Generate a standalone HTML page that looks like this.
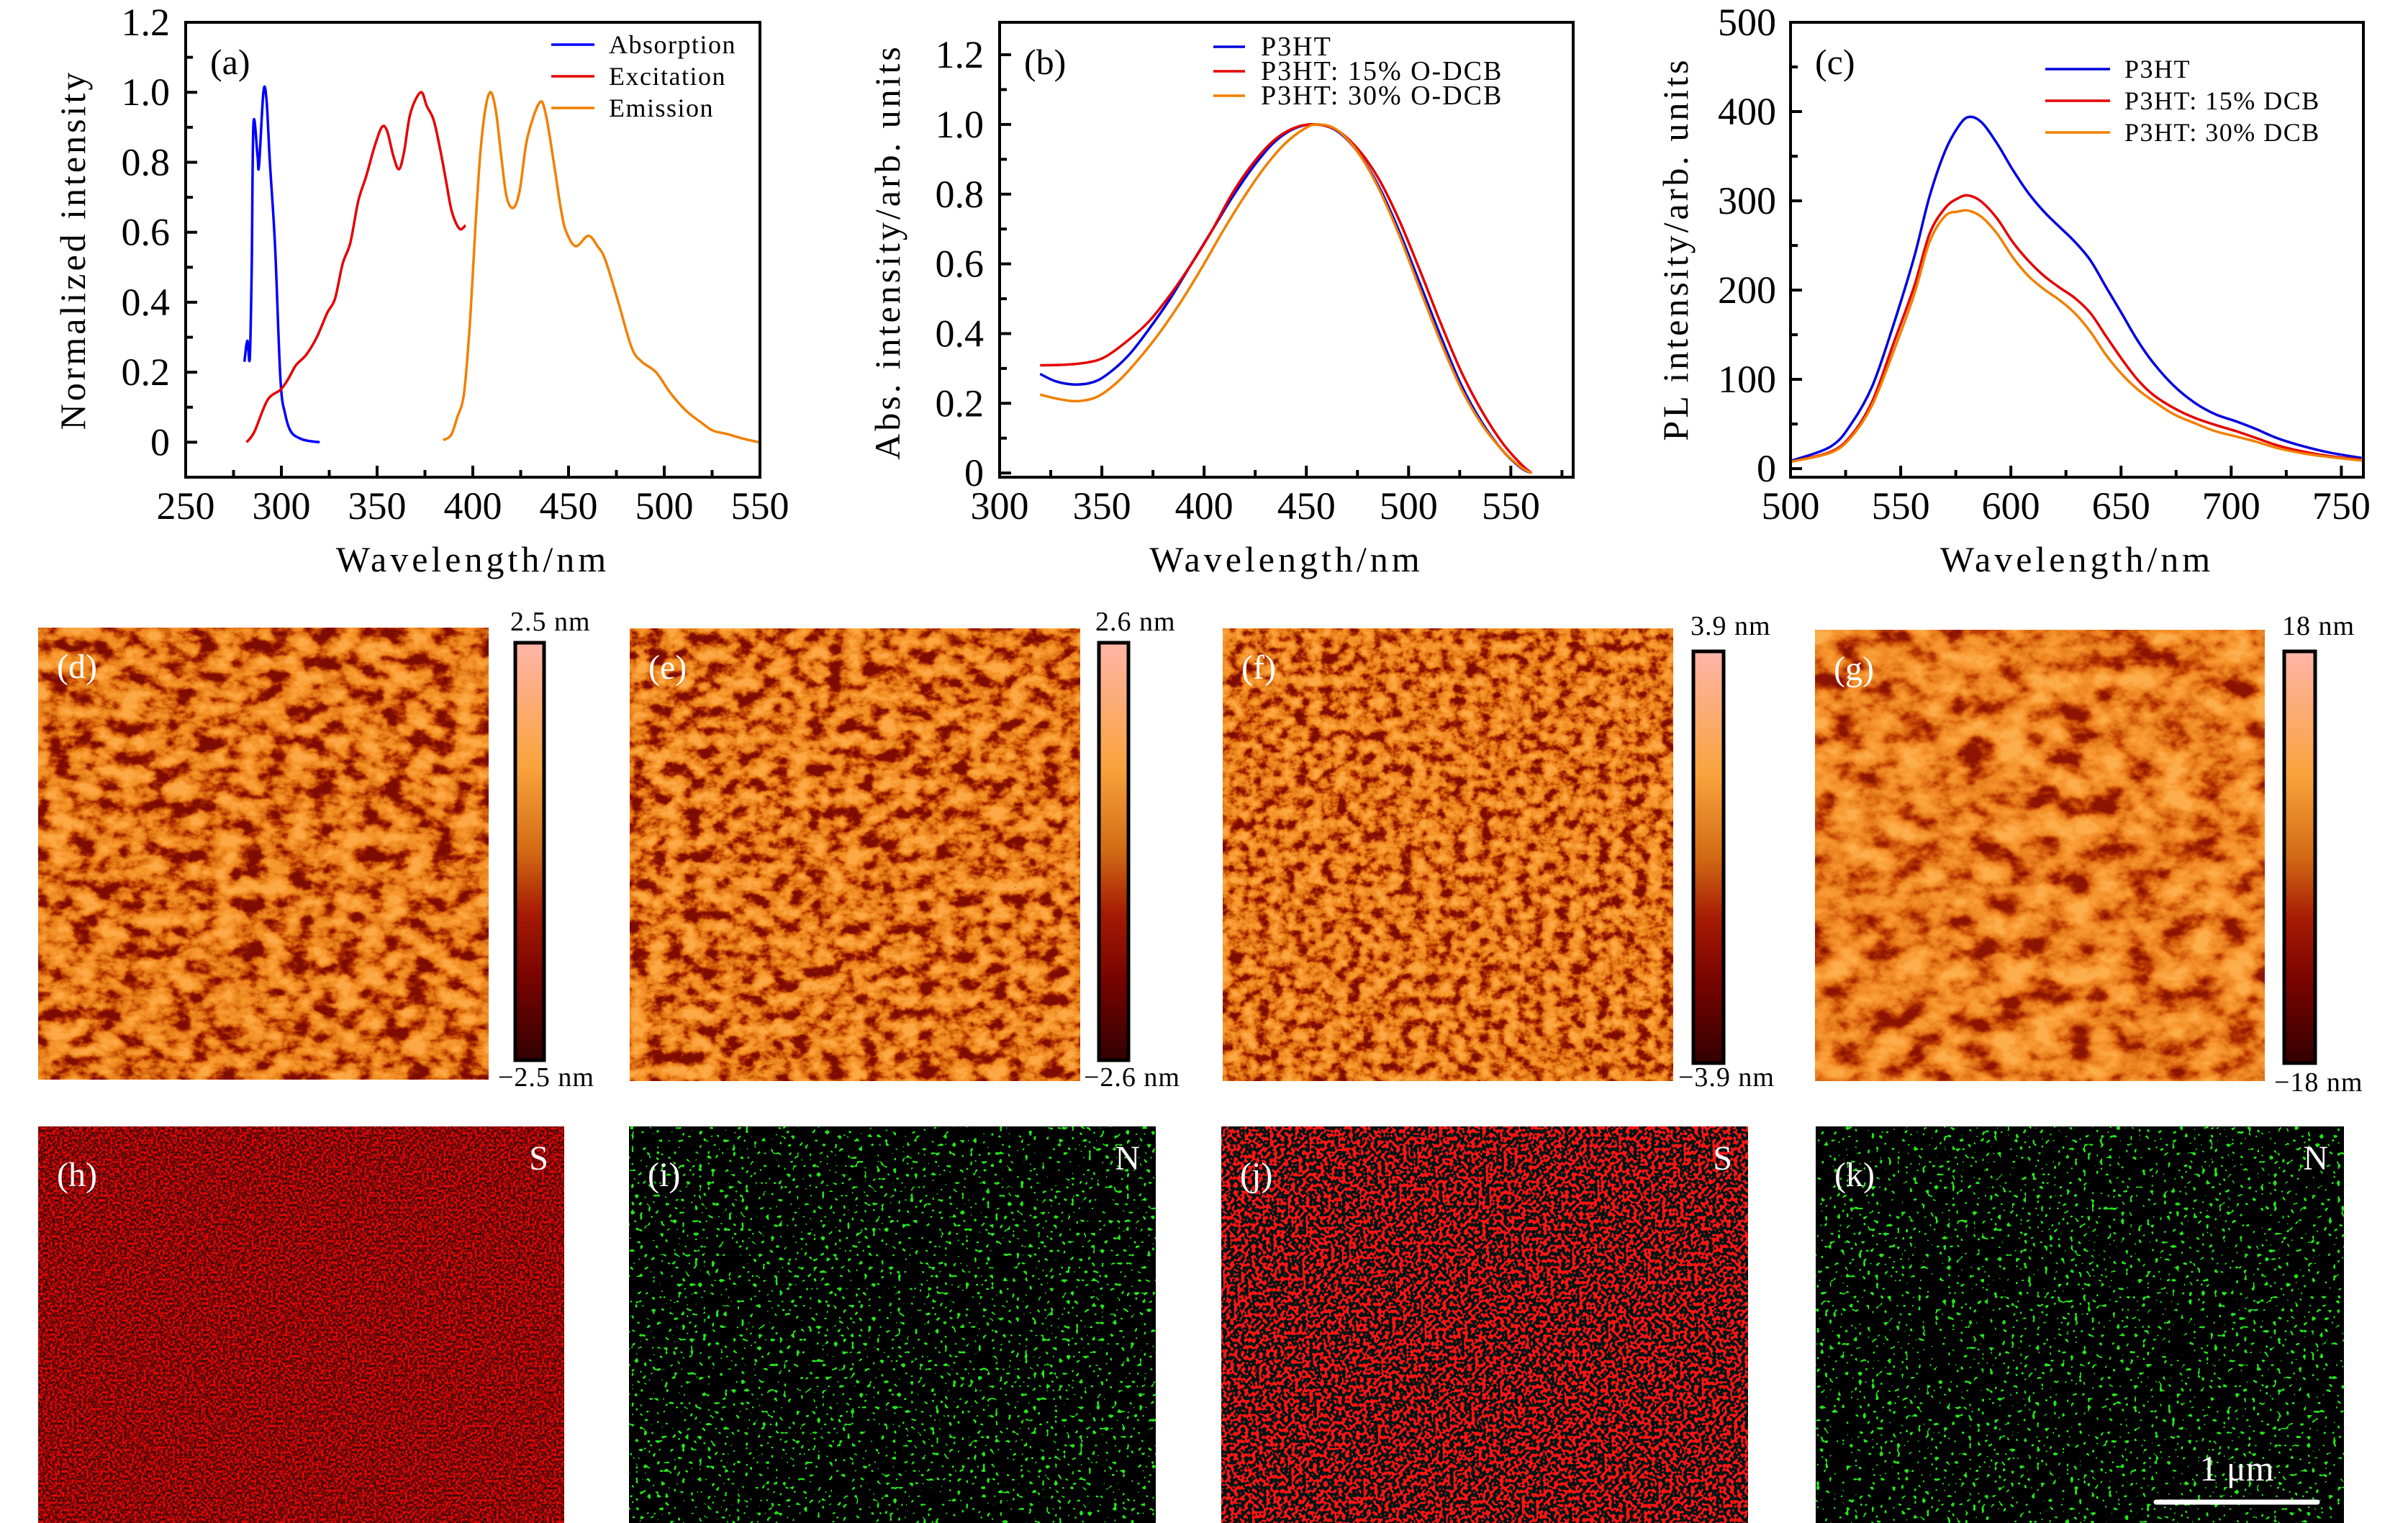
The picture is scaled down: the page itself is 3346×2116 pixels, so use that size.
<!DOCTYPE html>
<html><head><meta charset="utf-8">
<style>
html,body{margin:0;padding:0;background:#fff;}
svg{display:block;font-family:"Liberation Serif",serif;}
</style></head>
<body>
<svg id="fig" width="3346" height="2116" viewBox="0 0 3346 2116" xmlns="http://www.w3.org/2000/svg">
<defs>
  <linearGradient id="cbar" x1="0" y1="0" x2="0" y2="1">
    <stop offset="0" stop-color="#ffb4a8"/>
    <stop offset="0.3" stop-color="#f9a33c"/>
    <stop offset="0.5" stop-color="#d26a14"/>
    <stop offset="0.65" stop-color="#a51a04"/>
    <stop offset="0.8" stop-color="#7a0400"/>
    <stop offset="1" stop-color="#330000"/>
  </linearGradient>
  <filter id="afm1" x="0" y="0" width="1" height="1" color-interpolation-filters="sRGB">
    <feTurbulence type="fractalNoise" baseFrequency="0.03 0.045" numOctaves="4" seed="3"/>
    <feColorMatrix type="matrix" values="1 0 0 0 0  1 0 0 0 0  1 0 0 0 0  0 0 0 0 1"/>
    <feComponentTransfer><feFuncR type="linear" slope="2.4" intercept="-0.72"/><feFuncG type="linear" slope="2.4" intercept="-0.72"/><feFuncB type="linear" slope="2.4" intercept="-0.72"/></feComponentTransfer>
    <feComponentTransfer>
      <feFuncR type="table" tableValues="0.5 0.66 0.8 0.9 0.95 0.97 0.99"/>
      <feFuncG type="table" tableValues="0.05 0.16 0.34 0.49 0.56 0.6 0.66"/>
      <feFuncB type="table" tableValues="0 0.0 0.03 0.1 0.15 0.18 0.28"/>
    </feComponentTransfer>
  </filter>
  <filter id="afm2" x="0" y="0" width="1" height="1" color-interpolation-filters="sRGB">
    <feTurbulence type="fractalNoise" baseFrequency="0.04 0.05" numOctaves="5" seed="11"/>
    <feColorMatrix type="matrix" values="1 0 0 0 0  1 0 0 0 0  1 0 0 0 0  0 0 0 0 1"/>
    <feComponentTransfer><feFuncR type="linear" slope="2.4" intercept="-0.72"/><feFuncG type="linear" slope="2.4" intercept="-0.72"/><feFuncB type="linear" slope="2.4" intercept="-0.72"/></feComponentTransfer>
    <feComponentTransfer>
      <feFuncR type="table" tableValues="0.5 0.66 0.8 0.9 0.95 0.97 0.99"/>
      <feFuncG type="table" tableValues="0.05 0.16 0.34 0.49 0.56 0.6 0.66"/>
      <feFuncB type="table" tableValues="0 0.0 0.03 0.1 0.15 0.18 0.28"/>
    </feComponentTransfer>
  </filter>
  <filter id="afm4" x="0" y="0" width="1" height="1" color-interpolation-filters="sRGB">
    <feTurbulence type="fractalNoise" baseFrequency="0.055 0.065" numOctaves="5" seed="17"/>
    <feColorMatrix type="matrix" values="1 0 0 0 0  1 0 0 0 0  1 0 0 0 0  0 0 0 0 1"/>
    <feComponentTransfer><feFuncR type="linear" slope="2.2" intercept="-0.62"/><feFuncG type="linear" slope="2.2" intercept="-0.62"/><feFuncB type="linear" slope="2.2" intercept="-0.62"/></feComponentTransfer>
    <feComponentTransfer>
      <feFuncR type="table" tableValues="0.5 0.66 0.8 0.9 0.95 0.97 0.99"/>
      <feFuncG type="table" tableValues="0.05 0.16 0.34 0.49 0.56 0.6 0.66"/>
      <feFuncB type="table" tableValues="0 0.0 0.03 0.1 0.15 0.18 0.28"/>
    </feComponentTransfer>
  </filter>
  <filter id="afm3" x="0" y="0" width="1" height="1" color-interpolation-filters="sRGB">
    <feTurbulence type="fractalNoise" baseFrequency="0.022 0.03" numOctaves="4" seed="7"/>
    <feColorMatrix type="matrix" values="1 0 0 0 0  1 0 0 0 0  1 0 0 0 0  0 0 0 0 1"/>
    <feComponentTransfer><feFuncR type="linear" slope="2.2" intercept="-0.58"/><feFuncG type="linear" slope="2.2" intercept="-0.58"/><feFuncB type="linear" slope="2.2" intercept="-0.58"/></feComponentTransfer>
    <feComponentTransfer>
      <feFuncR type="table" tableValues="0.55 0.7 0.83 0.91 0.96 0.98 0.99"/>
      <feFuncG type="table" tableValues="0.08 0.2 0.36 0.5 0.57 0.62 0.68"/>
      <feFuncB type="table" tableValues="0 0.0 0.05 0.12 0.17 0.22 0.3"/>
    </feComponentTransfer>
  </filter>
  <filter id="edsH" x="0" y="0" width="1" height="1" color-interpolation-filters="sRGB">
    <feTurbulence type="fractalNoise" baseFrequency="0.3" numOctaves="1" seed="5"/>
    <feComponentTransfer>
      <feFuncR type="linear" slope="3" intercept="-0.9"/>
      <feFuncG type="linear" slope="0" intercept="0.03"/>
      <feFuncB type="linear" slope="0" intercept="0.03"/>
      <feFuncA type="linear" slope="0" intercept="1"/>
    </feComponentTransfer>
    <feComponentTransfer><feFuncR type="table" tableValues="0.25 0.45 0.9"/></feComponentTransfer>
  </filter>
  <filter id="edsJ" x="0" y="0" width="1" height="1" color-interpolation-filters="sRGB">
    <feTurbulence type="fractalNoise" baseFrequency="0.2" numOctaves="1" seed="9"/>
    <feComponentTransfer>
      <feFuncR type="linear" slope="6" intercept="-2.6"/>
      <feFuncG type="linear" slope="0" intercept="0"/>
      <feFuncB type="linear" slope="0" intercept="0"/>
      <feFuncA type="linear" slope="0" intercept="1"/>
    </feComponentTransfer>
    <feComponentTransfer><feFuncR type="discrete" tableValues="0 1"/><feFuncG type="linear" slope="0" intercept="0.08"/><feFuncB type="linear" slope="0" intercept="0.08"/></feComponentTransfer>
  </filter>
  <filter id="edsN1" x="0" y="0" width="1" height="1" color-interpolation-filters="sRGB">
    <feTurbulence type="fractalNoise" baseFrequency="0.17" numOctaves="1" seed="21"/>
    <feComponentTransfer>
      <feFuncR type="linear" slope="0" intercept="0"/>
      <feFuncG type="linear" slope="7" intercept="-4.15"/>
      <feFuncB type="linear" slope="0" intercept="0"/>
      <feFuncA type="linear" slope="0" intercept="1"/>
    </feComponentTransfer>
    <feComponentTransfer><feFuncG type="discrete" tableValues="0 0.9"/><feFuncR type="linear" slope="0" intercept="0"/></feComponentTransfer>
    <feColorMatrix type="matrix" values="0 0.15 0 0 0  0 1 0 0 0  0 0.1 0 0 0  0 0 0 1 0"/>
  </filter>
  <filter id="edsN2" x="0" y="0" width="1" height="1" color-interpolation-filters="sRGB">
    <feTurbulence type="fractalNoise" baseFrequency="0.17" numOctaves="1" seed="33"/>
    <feComponentTransfer>
      <feFuncR type="linear" slope="0" intercept="0"/>
      <feFuncG type="linear" slope="7" intercept="-4.15"/>
      <feFuncB type="linear" slope="0" intercept="0"/>
      <feFuncA type="linear" slope="0" intercept="1"/>
    </feComponentTransfer>
    <feComponentTransfer><feFuncG type="discrete" tableValues="0 0.9"/><feFuncR type="linear" slope="0" intercept="0"/></feComponentTransfer>
    <feColorMatrix type="matrix" values="0 0.15 0 0 0  0 1 0 0 0  0 0.1 0 0 0  0 0 0 1 0"/>
  </filter>
</defs>
<g id="charts"></g>
<g id="images"></g>
</svg>
<script>
// ---- Panel (a) data ----
const absX = [280.7,282.2,283.5,284.5,285.4,287.5,288.3,290.6,292.2,294,296.7,299.5,302,305,310,315,320];
const absY = [0.23,0.29,0.24,0.5,0.91,0.82,0.79,1.0,0.98,0.8,0.56,0.18,0.08,0.03,0.01,0.003,0.0];
const excX = [281.8,285.9,292.7,299.5,303.5,307.6,313,318.5,324,328,332,336,340.2,344.3,348.4,352.4,355.2,358.4,361.4,364.1,367.4,372.8,376,379.6,383.2,385.9,389,393,396.2];
const excY = [0,0.03,0.12,0.15,0.18,0.22,0.25,0.30,0.37,0.41,0.51,0.57,0.69,0.76,0.84,0.90,0.89,0.82,0.78,0.83,0.94,1.0,0.96,0.92,0.83,0.75,0.66,0.61,0.62];
const emiX = [384.5,388.6,391.8,395.4,398.6,401.4,404,406.8,409.5,412.2,415,417.7,421.2,424.5,428.5,434.8,438,442,446.2,448.9,453.8,460.3,465.2,469.3,476,483,488.3,495.7,503.3,511.4,519.6,525.5,533.2,541.3,549.5];
const emiY = [0.006,0.02,0.07,0.14,0.35,0.62,0.83,0.96,1.0,0.94,0.81,0.70,0.67,0.72,0.87,0.97,0.94,0.81,0.66,0.60,0.56,0.59,0.56,0.52,0.40,0.27,0.23,0.20,0.14,0.09,0.055,0.033,0.023,0.01,0.0];
const aXTicks = [250,300,350,400,450,500,550];
const aYTicks = [0,0.2,0.4,0.6,0.8,1.0,1.2];
const aYLabels = ["0","0.2","0.4","0.6","0.8","1.0","1.2"];
// ---- Panel (b) data ----
const bBlueX = [319.8,327.5,336.4,345.3,352.9,363.1,373.2,383.4,393.6,403.8,413.9,424.1,434.3,444.5,454.6,464.8,475,485.2,495.3,505.5,515.7,525.8,536,546.2,555.1,560.2];
const bBlueY = [0.284,0.263,0.254,0.26,0.284,0.338,0.414,0.50,0.598,0.695,0.792,0.879,0.949,0.989,1.0,0.982,0.922,0.825,0.695,0.544,0.392,0.252,0.144,0.063,0.014,0];
const bRedX = [319.8,332.6,342.7,351.6,363.1,373.2,383.4,393.6,403.8,413.9,424.1,434.3,444.5,454.6,464.8,475,485.2,495.3,505.5,515.7,525.8,536,546.2,555.1,560.2];
const bRedY = [0.309,0.311,0.317,0.333,0.382,0.436,0.511,0.598,0.695,0.803,0.89,0.955,0.991,1.0,0.984,0.931,0.846,0.727,0.582,0.43,0.29,0.176,0.084,0.025,0];
const bOrX = [319.8,327.5,337.6,347.8,358,368.2,378.3,388.5,398.7,408.8,419,429.2,439.4,449.5,455.9,464.8,475,485.2,495.3,505.5,515.7,525.8,536,546.2,555.1,560.2];
const bOrY = [0.225,0.214,0.206,0.219,0.263,0.328,0.403,0.49,0.587,0.69,0.787,0.874,0.944,0.989,1.0,0.985,0.922,0.819,0.684,0.528,0.376,0.241,0.138,0.063,0.016,0];
const bXTicks = [300,350,400,450,500,550];
const bYTicks = [0,0.2,0.4,0.6,0.8,1.0,1.2];
const bYLabels = ["0","0.2","0.4","0.6","0.8","1.0","1.2"];
// ---- Panel (c) data ----
const cX = [500.7,518.4,527.8,537.2,546.7,556.1,563.1,570.2,576.1,580.8,586.7,593.8,600.8,607.9,615,622,629.1,636.2,643.3,650.3,657.4,664.5,673.9,683.3,692.7,702.2,711.6,721,732.8,744.6,759.2];
const cBlue = [9,25,51,93,161,237,305,356,383,394,388,364,335,309,288,271,254,233,203,174,144,119,93,74,61,53,44,34,25,18,12];
const cRed = [8,19,38,76,140,204,263,292,303,306,299,280,254,233,216,203,191,174,148,123,100,83,68,57,49,42,34,26,19,14,10];
const cOrange = [8,18,36,72,131,195,254,283,288,289,282,263,237,216,201,189,174,153,127,106,89,76,61,51,42,36,30,23,17,13,9];
const cXTicks = [500,550,600,650,700,750];
const cYTicks = [0,100,200,300,400,500];
const cYLabels = ["0","100","200","300","400","500"];

const NS = "http://www.w3.org/2000/svg";
const charts = document.getElementById('charts');
const images = document.getElementById('images');
function mk(tag, attrs, parent, text){
  const e = document.createElementNS(NS, tag);
  for (const k in attrs) e.setAttribute(k, attrs[k]);
  if (text !== undefined) e.textContent = text;
  parent.appendChild(e);
  return e;
}
function scale(d0,d1,r0,r1){ return v => r0 + (v-d0)/(d1-d0)*(r1-r0); }
function smoothPath(xs, ys, sx, sy){
  const p = xs.map((x,i)=>[sx(x), sy(ys[i])]);
  let d = "M" + p[0][0].toFixed(1) + "," + p[0][1].toFixed(1);
  for (let i=0;i<p.length-1;i++){
    const p0 = p[i-1]||p[i], p1=p[i], p2=p[i+1], p3=p[i+2]||p2;
    const c1 = [p1[0]+(p2[0]-p0[0])/6, p1[1]+(p2[1]-p0[1])/6];
    const c2 = [p2[0]-(p3[0]-p1[0])/6, p2[1]-(p3[1]-p1[1])/6];
    d += "C"+c1[0].toFixed(1)+","+c1[1].toFixed(1)+" "+c2[0].toFixed(1)+","+c2[1].toFixed(1)+" "+p2[0].toFixed(1)+","+p2[1].toFixed(1);
  }
  return d;
}

function panel(cfg){
  const g = mk('g', {}, charts);
  
  
  const sx = scale(cfg.xd[0], cfg.xd[1], cfg.L, cfg.R);
  const sy = scale(cfg.yd[0], cfg.yd[1], cfg.B, cfg.T);
  const sg = mk('g', {}, g);
  
  
  cfg.series.forEach(s=>{
    const p = mk('path', {d: smoothPath(s.x, s.y, sx, sy), fill:'none', stroke:s.color, 'stroke-width':3.5, 'stroke-linejoin':'round'}, sg);
    
    
  });
  const fr = mk('rect', {x:cfg.L, y:cfg.T, width:cfg.R-cfg.L, height:cfg.B-cfg.T, fill:'none', stroke:'#000', 'stroke-width':4}, g);
  
  
  const xg = mk('g', {}, g);
  
  
  cfg.xTicks.forEach(v=>{
    const x = sx(v);
    mk('line', {x1:x, x2:x, y1:cfg.B, y2:cfg.B-16, stroke:'#000','stroke-width':4}, xg);
    const t = mk('text', {x:x, y:cfg.B+58, 'font-size':54, 'text-anchor':'middle'}, xg, String(v));
    
    
  });
  for (let i=0;i<cfg.xTicks.length;i++){
    const m = cfg.xTicks[i] + (cfg.xTicks[1]-cfg.xTicks[0])/2;
    if (m < cfg.xd[1]) { const x=sx(m); mk('line', {x1:x, x2:x, y1:cfg.B, y2:cfg.B-10, stroke:'#000','stroke-width':4}, xg); }
  }
  const yg = mk('g', {}, g);
  
  
  cfg.yTicks.forEach((v,i)=>{
    const y = sy(v);
    mk('line', {x1:cfg.L, x2:cfg.L+16, y1:y, y2:y, stroke:'#000','stroke-width':4}, yg);
    const t = mk('text', {x:cfg.ylx, y:y+18, 'font-size':54, 'text-anchor':'end'}, yg, cfg.yLabels[i]);
    
    
  });
  const step = cfg.yTicks[1]-cfg.yTicks[0];
  for (let v=cfg.yTicks[0]-step/2; v<cfg.yd[1]; v+=step){
    if (v > cfg.yd[0]) { const y=sy(v); mk('line', {x1:cfg.L, x2:cfg.L+10, y1:y, y2:y, stroke:'#000','stroke-width':4}, yg); }
  }
  const xt = mk('text', {x:(cfg.L+cfg.R)/2, y:794, 'font-size':50, 'text-anchor':'middle', 'letter-spacing':'5'}, g, 'Wavelength/nm');
  
  
  const yt = mk('text', {x:0, y:0, 'font-size':50, 'text-anchor':'middle', 'letter-spacing':'4', transform:'translate('+cfg.ytx+','+cfg.tyc+') rotate(-90)'}, g, cfg.yTitle);
  
  
  const pl = mk('text', {x:cfg.L+34, y:cfg.T+72, 'font-size':50}, g, cfg.label);
  
  
  const lg = mk('g', {}, g);
  
  
  cfg.series.forEach((s,i)=>{
    const y = cfg.leg.y0 + i*cfg.leg.dy;
    const e = mk('g', {}, lg);
    
    
    mk('line', {x1:cfg.leg.x0, x2:cfg.leg.x1, y1:y, y2:y, stroke:s.color, 'stroke-width':3.5}, e);
    mk('text', {x:cfg.leg.tx, y:y+12, 'font-size':cfg.leg.fs, 'letter-spacing':cfg.leg.ls}, e, s.name);
  });
}

panel({name:'panel-a-spectra', L:258, R:1056, T:31, B:663, xd:[250,550], yd:[-0.1,1.2],
  xTicks:aXTicks, yTicks:aYTicks, yLabels:aYLabels, ylx:236, ytx:118, tyc:347,
  yTitle:'Normalized intensity', label:'(a)',
  leg:{x0:766, x1:826, tx:846, y0:62, dy:44, fs:36, ls:'1.5'},
  series:[{id:'absorption',name:'Absorption',color:'#0000ff',x:absX,y:absY},
          {id:'excitation',name:'Excitation',color:'#e50000',x:excX,y:excY},
          {id:'emission',name:'Emission',color:'#f08000',x:emiX,y:emiY}]});
panel({name:'panel-b-absorption', L:1389, R:2186, T:31, B:663, xd:[300,580.5], yd:[-0.012,1.293],
  xTicks:bXTicks, yTicks:bYTicks, yLabels:bYLabels, ylx:1367, ytx:1250, tyc:350,
  yTitle:'Abs. intensity/arb. units', label:'(b)',
  leg:{x0:1686, x1:1730, tx:1752, y0:65, dy:34, fs:38, ls:'2'},
  series:[{id:'p3ht',name:'P3HT',color:'#0000dd',x:bBlueX,y:bBlueY},
          {id:'p3ht-15-odcb',name:'P3HT: 15% O-DCB',color:'#e50000',x:bRedX,y:bRedY},
          {id:'p3ht-30-odcb',name:'P3HT: 30% O-DCB',color:'#f08000',x:bOrX,y:bOrY}]});
panel({name:'panel-c-pl', L:2488, R:3284, T:31, B:663, xd:[500,760], yd:[-9.6,500],
  xTicks:cXTicks, yTicks:cYTicks, yLabels:cYLabels, ylx:2468, ytx:2345, tyc:346,
  yTitle:'PL intensity/arb. units', label:'(c)',
  leg:{x0:2842, x1:2932, tx:2952, y0:96, dy:44, fs:36, ls:'1.5'},
  series:[{id:'p3ht',name:'P3HT',color:'#0000dd',x:cX,y:cBlue},
          {id:'p3ht-15-dcb',name:'P3HT: 15% DCB',color:'#e50000',x:cX,y:cRed},
          {id:'p3ht-30-dcb',name:'P3HT: 30% DCB',color:'#f08000',x:cX,y:cOrange}]});

// ---- AFM images ----
const afm = [
  {n:'d', x:53, y:872, w:626, h:628, f:'afm1', cb:[716,893,40,580], top:'2.5 nm', bot:'\u22122.5 nm', tl:[709,876], bl:[692,1509]},
  {n:'e', x:875, y:873, w:626, h:629, f:'afm2', cb:[1527,893,41,580], top:'2.6 nm', bot:'\u22122.6 nm', tl:[1522,876], bl:[1506,1509]},
  {n:'f', x:1699, y:873, w:626, h:629, f:'afm4', cb:[2353,905,42,572], top:'3.9 nm', bot:'\u22123.9 nm', tl:[2349,882], bl:[2332,1509]},
  {n:'g', x:2522, y:875, w:625, h:627, f:'afm3', cb:[3174,905,43,572], top:'18 nm', bot:'\u221218 nm', tl:[3171,882], bl:[3160,1516]}
];
afm.forEach((a,i)=>{
  const g = mk('g', {}, images);
  
  
  const r = mk('rect', {x:a.x, y:a.y, width:a.w, height:a.h, fill:'#d88a30', filter:'url(#'+a.f+')'}, g);
  
  
  const t = mk('text', {x:a.x+26, y:a.y+70, 'font-size':48, fill:'#fff'}, g, '('+a.n+')');
  
  
  const cb = mk('rect', {x:a.cb[0], y:a.cb[1], width:a.cb[2], height:a.cb[3], fill:'url(#cbar)', stroke:'#000', 'stroke-width':5}, g);
  
  
  const t1 = mk('text', {x:a.tl[0], y:a.tl[1], 'font-size':38, 'letter-spacing':'1'}, g, a.top);
  
  
  const t2 = mk('text', {x:a.bl[0], y:a.bl[1], 'font-size':38, 'letter-spacing':'1'}, g, a.bot);
  
  
});

// ---- EDS maps ----
const eds = [
  {n:'h', x:53, w:731, f:'edsH', el:'S', bg:'#400000'},
  {n:'i', x:874, w:732, f:'edsN1', el:'N', bg:'#000'},
  {n:'j', x:1697, w:732, f:'edsJ', el:'S', bg:'#000'},
  {n:'k', x:2523, w:734, f:'edsN2', el:'N', bg:'#000'}
];
eds.forEach(e=>{
  const g = mk('g', {}, images);
  
  
  mk('rect', {x:e.x, y:1565, width:e.w, height:551, fill:e.bg}, g);
  const r = mk('rect', {x:e.x, y:1565, width:e.w, height:551, fill:'#000', filter:'url(#'+e.f+')'}, g);
  
  
  const t = mk('text', {x:e.x+26, y:1648, 'font-size':48, fill:'#fff'}, g, '('+e.n+')');
  
  
  const s = mk('text', {x:e.x+e.w-22, y:1625, 'font-size':48, fill:'#fff', 'text-anchor':'end'}, g, e.el);
  
  
});
const sb = mk('line', {x1:2996, x2:3220, y1:2087, y2:2087, stroke:'#fff', 'stroke-width':7, 'stroke-linecap':'round'}, images);


const sbt = mk('text', {x:3108, y:2057, 'font-size':50, fill:'#fff', 'text-anchor':'middle'}, images, '1 \u03bcm');


</script>
</body></html>
